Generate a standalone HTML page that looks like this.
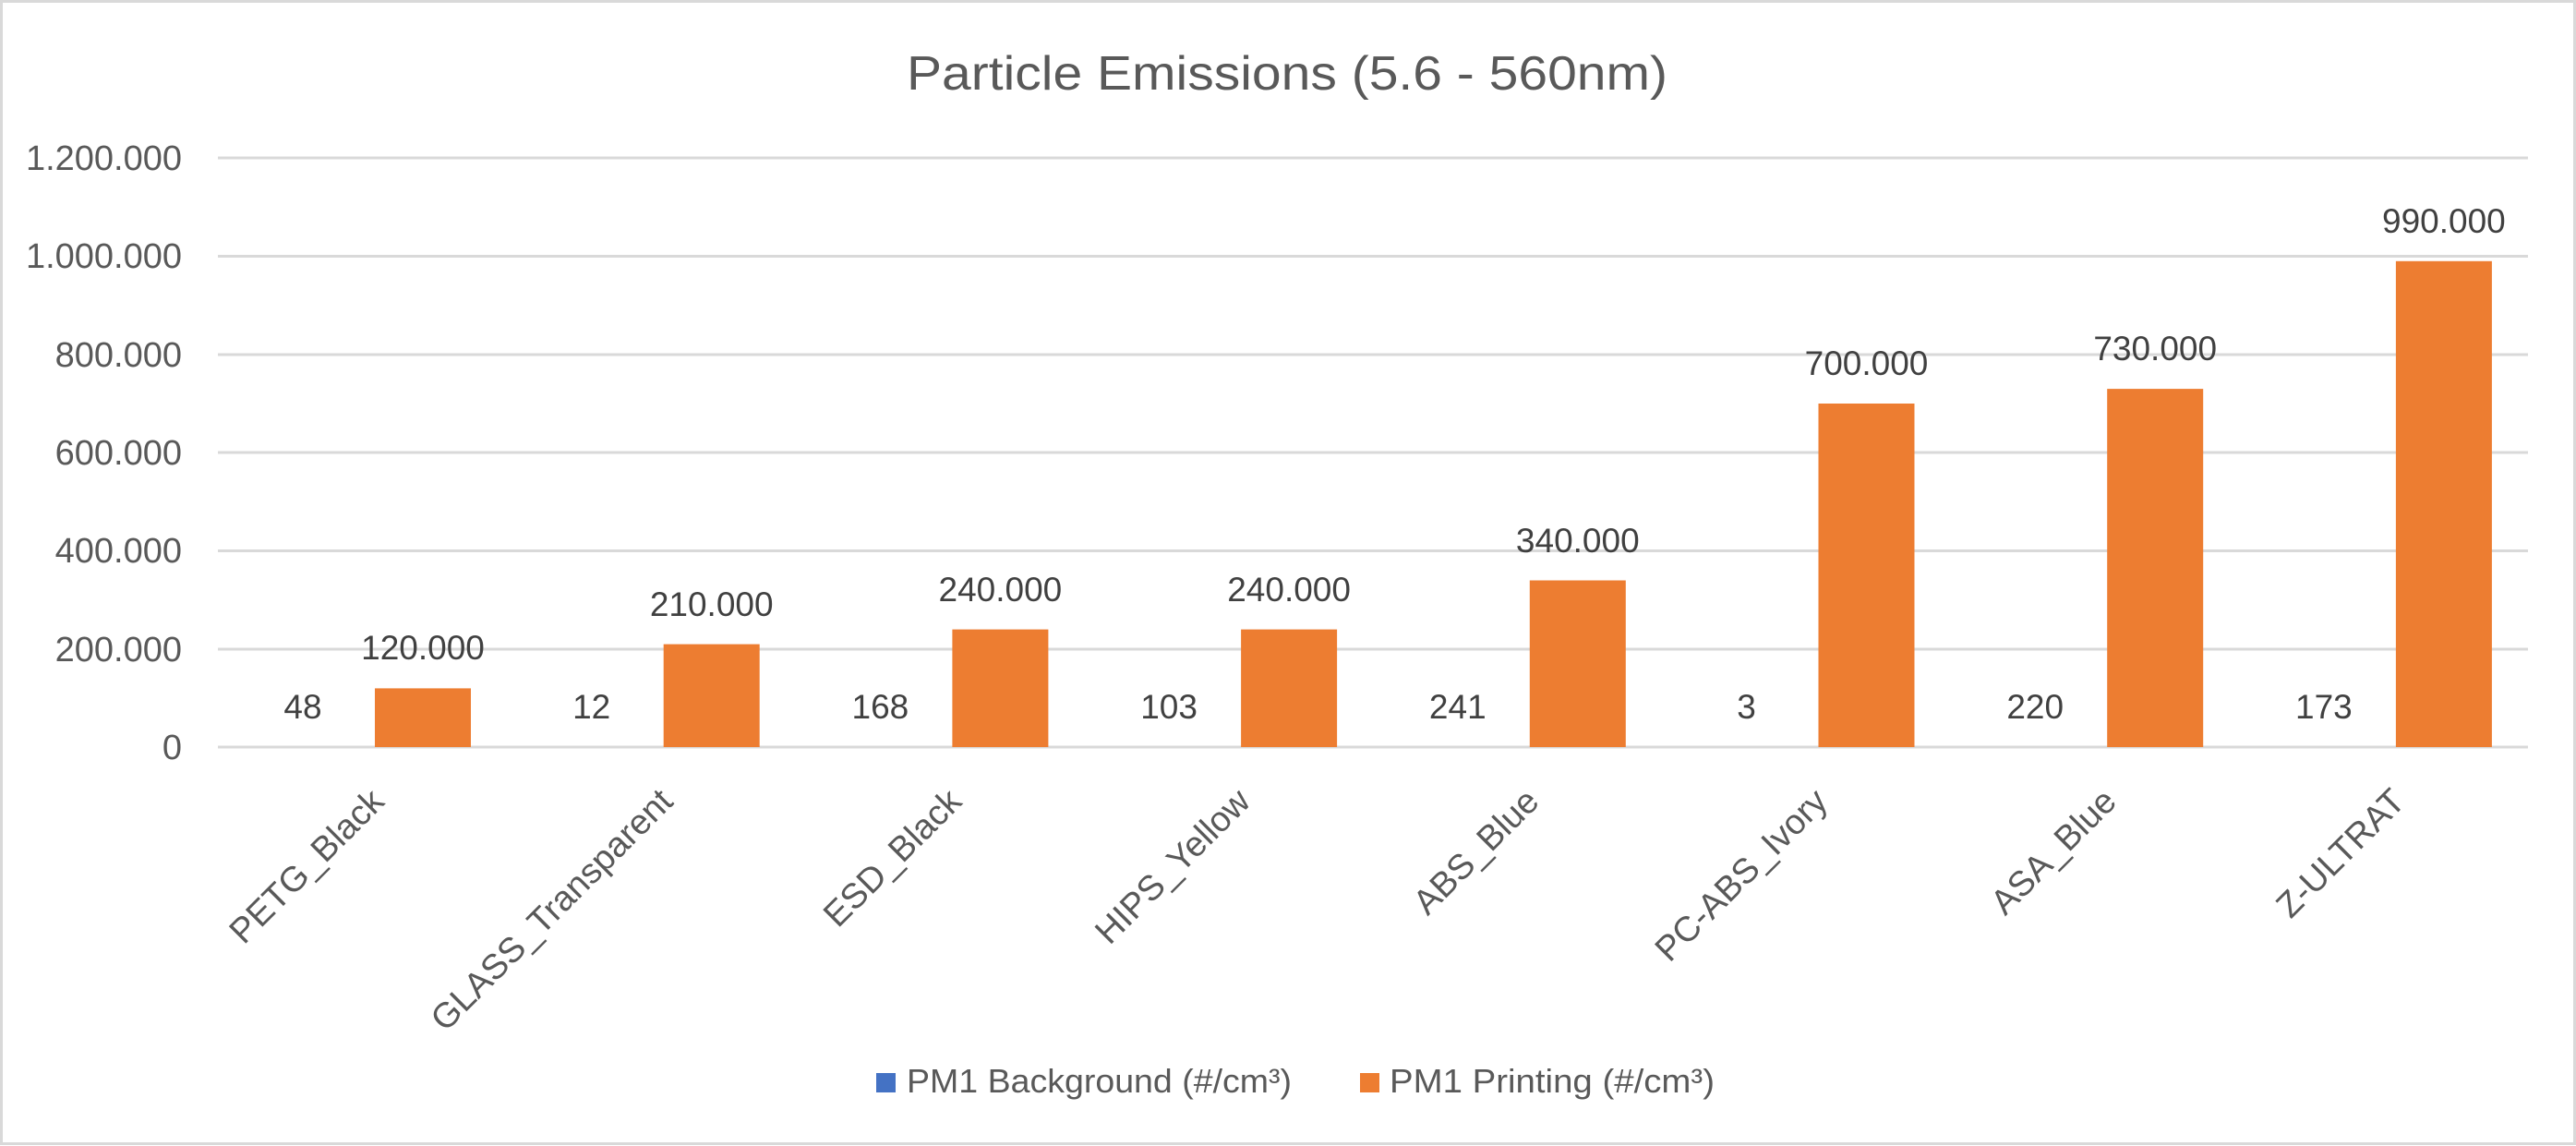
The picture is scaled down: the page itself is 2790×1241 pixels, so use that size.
<!DOCTYPE html>
<html><head><meta charset="utf-8"><style>
html,body{margin:0;padding:0;background:#fff;}
svg{display:block;}
text{font-family:"Liberation Sans",sans-serif;}
</style></head><body>
<svg width="2790" height="1241" viewBox="0 0 2790 1241" xmlns="http://www.w3.org/2000/svg">
<rect x="1.5" y="1.5" width="2787" height="1237" fill="#fff" stroke="#d9d9d9" stroke-width="3"/>
<text x="1394" y="97" font-size="52" fill="#595959" text-anchor="middle" textLength="824" lengthAdjust="spacingAndGlyphs">Particle Emissions (5.6 - 560nm)</text>
<g stroke="#d9d9d9" stroke-width="3">
<line x1="236" y1="171" x2="2738" y2="171"/>
<line x1="236" y1="277.5" x2="2738" y2="277.5"/>
<line x1="236" y1="384" x2="2738" y2="384"/>
<line x1="236" y1="490" x2="2738" y2="490"/>
<line x1="236" y1="596.5" x2="2738" y2="596.5"/>
<line x1="236" y1="703" x2="2738" y2="703"/>
<line x1="236" y1="809" x2="2738" y2="809"/>
</g>
<g font-size="38" fill="#595959" text-anchor="end">
<text x="197" y="184">1.200.000</text>
<text x="197" y="290">1.000.000</text>
<text x="197" y="397">800.000</text>
<text x="197" y="503">600.000</text>
<text x="197" y="609">400.000</text>
<text x="197" y="716">200.000</text>
<text x="197" y="822">0</text>
</g>
<g fill="#ED7D31">
<rect x="406" y="745.4" width="104" height="63.6"/>
<rect x="718.7" y="697.6" width="104" height="111.4"/>
<rect x="1031.4" y="681.6" width="104" height="127.4"/>
<rect x="1344.1" y="681.6" width="104" height="127.4"/>
<rect x="1656.8" y="628.5" width="104" height="180.5"/>
<rect x="1969.5" y="437" width="104" height="372"/>
<rect x="2282.2" y="421.1" width="104" height="387.9"/>
<rect x="2594.9" y="282.8" width="104" height="526.2"/>
</g>
<g font-size="37" fill="#404040" text-anchor="middle">
<text x="458" y="714">120.000</text>
<text x="770.7" y="667">210.000</text>
<text x="1083.4" y="651">240.000</text>
<text x="1396.1" y="651">240.000</text>
<text x="1708.8" y="598">340.000</text>
<text x="2021.5" y="406">700.000</text>
<text x="2334.2" y="390">730.000</text>
<text x="2646.9" y="252">990.000</text>
<text x="328" y="778">48</text>
<text x="640.7" y="778">12</text>
<text x="953.4" y="778">168</text>
<text x="1266.1" y="778">103</text>
<text x="1578.8" y="778">241</text>
<text x="1891.5" y="778">3</text>
<text x="2204.2" y="778">220</text>
<text x="2516.9" y="778">173</text>
</g>
<g font-size="38" fill="#595959" text-anchor="end">
<text transform="translate(418,870) rotate(-45)">PETG_Black</text>
<text transform="translate(730.7,870) rotate(-45)">GLASS_Transparent</text>
<text transform="translate(1043.4,870) rotate(-45)">ESD_Black</text>
<text transform="translate(1356.1,870) rotate(-45)">HIPS_Yellow</text>
<text transform="translate(1668.8,870) rotate(-45)">ABS_Blue</text>
<text transform="translate(1981.5,870) rotate(-45)">PC-ABS_Ivory</text>
<text transform="translate(2294.2,870) rotate(-45)">ASA_Blue</text>
<text transform="translate(2606.9,870) rotate(-45)">Z-ULTRAT</text>
</g>
<rect x="949" y="1162" width="21" height="21" fill="#4472C4"/>
<text x="982" y="1183" font-size="36" fill="#595959" textLength="417" lengthAdjust="spacingAndGlyphs">PM1 Background (#/cm³)</text>
<rect x="1473" y="1162" width="21" height="21" fill="#ED7D31"/>
<text x="1505" y="1183" font-size="36" fill="#595959" textLength="352" lengthAdjust="spacingAndGlyphs">PM1 Printing (#/cm³)</text>
</svg>
</body></html>
